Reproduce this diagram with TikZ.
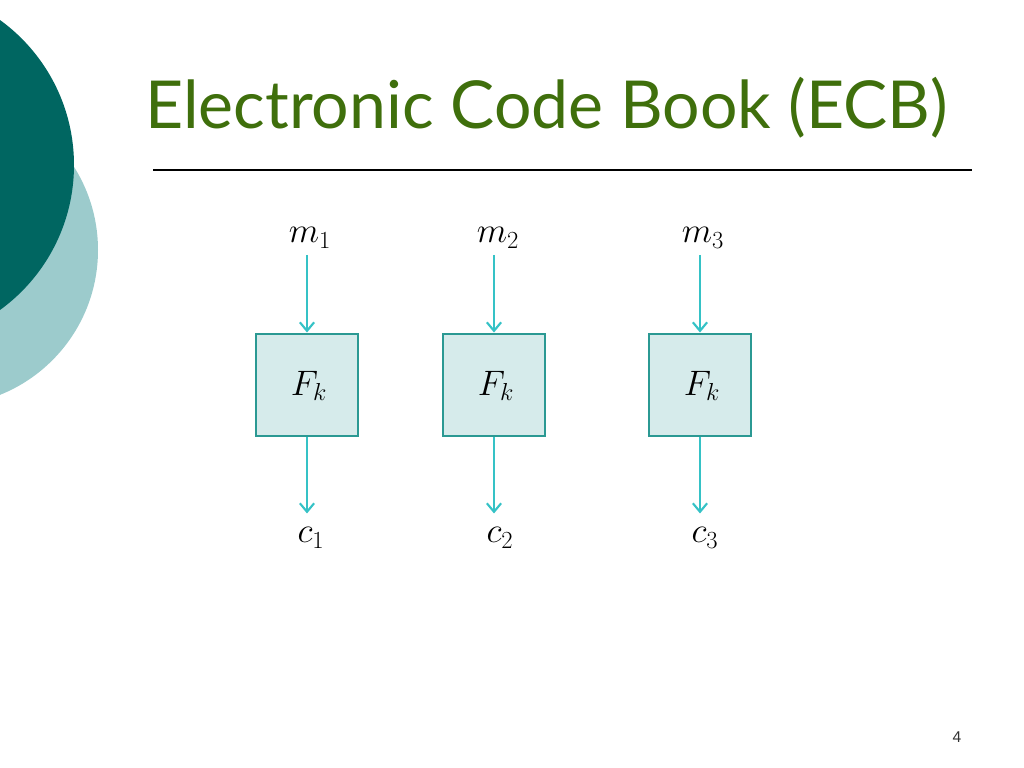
\documentclass[tikz,border=0pt]{standalone}
\usepackage{fontspec}
\setmainfont{Liberation Sans}
\newfontfamily\titlefont{Lato}
\usepackage{xcolor}
\usetikzlibrary{arrows.meta}

\definecolor{darkteal}{HTML}{006661}
\definecolor{lightteal}{HTML}{9CCBCC}
\definecolor{titlegreen}{HTML}{3F6F0C}
\definecolor{boxfill}{HTML}{D6EBEB}
\definecolor{boxline}{HTML}{2B9993}
\definecolor{arrowcyan}{HTML}{35C2C6}

\begin{document}
\begin{tikzpicture}[x=0.703pt, y=-0.703pt,
    fbox/.style={draw=boxline, line width=1.8pt, fill=boxfill, minimum size=72pt, inner sep=0pt},
    lbl/.style={inner sep=1pt, font=\fontsize{26}{30}\selectfont},
    arr/.style={draw=arrowcyan, line width=1.5pt, -{Straight Barb[length=6pt, width=10pt]}}]
  \useasboundingbox (0, 0) rectangle (1024, 768);

  % Background circles
  \begin{scope}
    \clip (0, 0) rectangle (1024, 768);
    \fill[lightteal] (-58, 250) circle (156);
    \fill[darkteal] (-105, 165) circle (179);
  \end{scope}

  % Title
  \node[anchor=base west, inner sep=0pt, text=titlegreen,
        font=\titlefont\fontsize{46.5}{52}\selectfont] (title) at (145, 128) {Electronic Code Book (ECB)};
  \draw[line width=0.9pt] (153, 170) -- (972, 170);

  % Inputs
  \node[lbl] (m1) at (310, 238) {$m_1$};
  \node[lbl] (m2) at (498, 238) {$m_2$};
  \node[lbl] (m3) at (703, 238) {$m_3$};

  % Cipher boxes
  \node[fbox] (f1) at (307, 385) {};
  \node[fbox] (f2) at (494, 385) {};
  \node[fbox] (f3) at (700, 385) {};
  \node[lbl] (k1) at (309, 386) {$F_k$};
  \node[lbl] (k2) at (496, 386) {$F_k$};
  \node[lbl] (k3) at (702, 386) {$F_k$};

  % Outputs
  \node[lbl] (c1) at (311, 538) {$c_1$};
  \node[lbl] (c2) at (500, 538) {$c_2$};
  \node[lbl] (c3) at (705, 538) {$c_3$};

  % Arrows
  \draw[arr] (m1.south -| f1) ++(0, 5) -- (f1.north);
  \draw[arr] (m2.south -| f2) ++(0, 5) -- (f2.north);
  \draw[arr] (m3.south -| f3) ++(0, 5) -- (f3.north);
  \draw[arr] (f1.south) -- ++(0, 76);
  \draw[arr] (f2.south) -- ++(0, 76);
  \draw[arr] (f3.south) -- ++(0, 76);

  % Page number
  \node[font=\fontsize{11}{13}\selectfont, text=black!80] (page) at (957, 737) {4};
\end{tikzpicture}
\end{document}
